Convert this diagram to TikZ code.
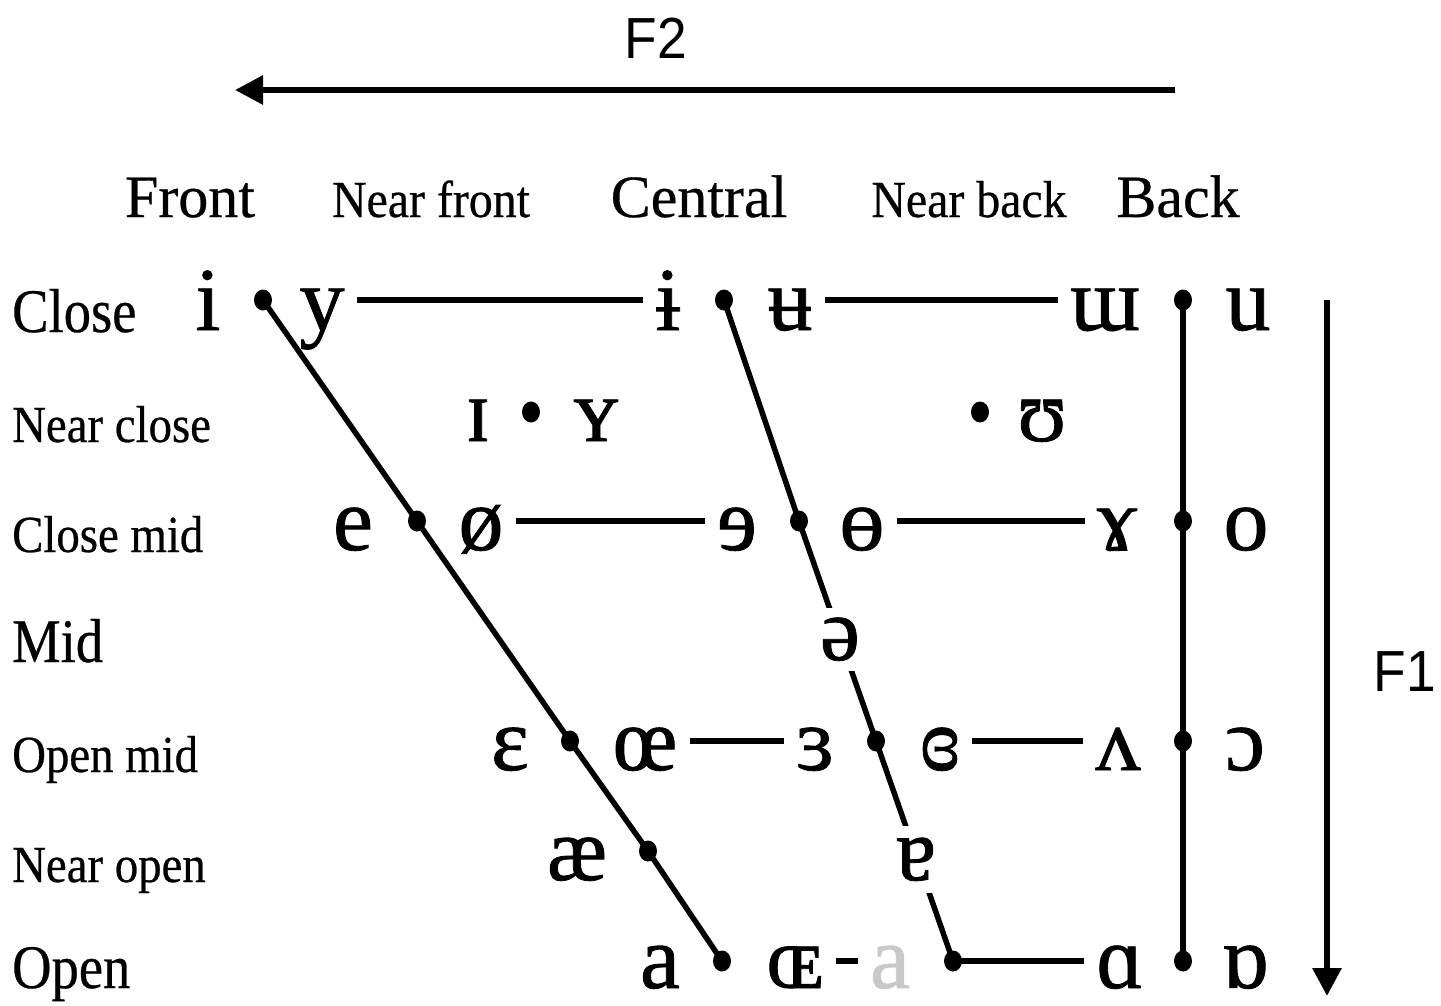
\documentclass[tikz,border=0pt]{standalone}
\usepackage{fontspec}
\setmainfont{Liberation Serif}
\newfontfamily\ipa[FakeBold=0.9]{Liberation Serif}
\newfontfamily\lbl[FakeBold=0.5]{Liberation Serif}
\newfontfamily\fsans{Liberation Sans}
\usetikzlibrary{arrows.meta,shapes.geometric}
\definecolor{lightgray}{RGB}{200,200,200}
\tikzset{
  vw/.style={font=\ipa\fontsize{90}{90}\selectfont, anchor=base, inner xsep=12pt, inner ysep=0pt},
  dotnode/.style={ellipse, fill=black, inner sep=0pt, minimum width=18pt, minimum height=21pt},
  conn/.style={line width=5.5pt},
  axis/.style={line width=6pt, -{Triangle[length=28pt,width=28pt]}},
  rowbig/.style={font=\lbl\fontsize{62}{62}\selectfont, xscale=0.88, anchor=base west, inner sep=0pt},
  rowsmall/.style={font=\lbl\fontsize{52}{52}\selectfont, xscale=0.9, anchor=base west, inner sep=0pt},
  colbig/.style={font=\lbl\fontsize{60}{60}\selectfont, anchor=base, inner sep=0pt},
  colsmall/.style={font=\lbl\fontsize{52}{52}\selectfont, xscale=0.92, anchor=base, inner sep=0pt},
  flabel/.style={font=\fsans\fontsize{58}{58}\selectfont, xscale=0.92, inner sep=0pt}
}
\begin{document}
\begin{tikzpicture}[x=1pt,y=-1pt]
\useasboundingbox (0,0) rectangle (1441,1005);
% axes
\coordinate (f2s) at (1175,90);
\coordinate (f2e) at (235,90);
\draw[axis] (f2s) -- (f2e);
\node[flabel] (F2) at (656,38) {F2};
\coordinate (f1s) at (1327,300);
\coordinate (f1e) at (1327,996);
\draw[axis] (f1s) -- (f1e);
\node[flabel] (F1) at (1405,672) {F1};
% column headers
\node[colbig] (hfront) at (190,217) {Front};
\node[colsmall] (hnf) at (431,217) {Near front};
\node[colbig] (hcen) at (699,217) {Central};
\node[colsmall] (hnb) at (969,217) {Near back};
\node[colbig] (hback) at (1178,217) {Back};
% row labels
\node[rowbig] (rclose) at (12,332) {Close};
\node[rowsmall] (rnc) at (12,442) {Near close};
\node[rowsmall] (rcm) at (12,552) {Close mid};
\node[rowbig] (rmid) at (12,662) {Mid};
\node[rowsmall] (rom) at (12,772) {Open mid};
\node[rowsmall] (rno) at (12,882) {Near open};
\node[rowbig] (ropen) at (12,988) {Open};
% dots
\node[dotnode] (fd1) at (263,300) {};
\node[dotnode] (fd3) at (417,521) {};
\node[dotnode] (fd5) at (570,741) {};
\node[dotnode] (fd6) at (648,851) {};
\node[dotnode] (fd7) at (722,961) {};
\node[dotnode] (cd1) at (724,300) {};
\node[dotnode] (cd3) at (799,521) {};
\node[dotnode] (cd5) at (876,741) {};
\node[dotnode] (cd7) at (953,961) {};
\node[dotnode] (bd1) at (1183,300) {};
\node[dotnode] (bd3) at (1183,521) {};
\node[dotnode] (bd5) at (1183,741) {};
\node[dotnode] (bd7) at (1183,961) {};
\node[dotnode] (nfd) at (531,412) {};
\node[dotnode] (nbd) at (980,412) {};
% skeleton lines
\draw[conn] (fd1.center) -- (fd3.center) -- (fd5.center) -- (fd6.center) -- (fd7.center);
\draw[conn] (cd1.center) -- (cd3.center) -- (cd5.center) -- (cd7.center);
\draw[conn] (bd1.center) -- (bd7.center);
% vowels
% close
\node[vw] (vi) at (208,330) {i};
\node[vw] (vy) at (322,330) {y};
\node[vw] (vib) at (668,330) {ɨ};
\node[vw] (vub) at (790,330) {ʉ};
\node[vw] (vuu) at (1105,330) {ɯ};
\node[vw] (vu) at (1248,330) {u};
% near close
\node[vw] (vI) at (478,441) {ɪ};
\node[vw] (vY) at (596,441) {ʏ};
\node[vw] (vU) at (1042,441) {ʊ};
% close mid
\node[vw] (ve) at (353,550) {e};
\node[vw] (vo2) at (481,550) {ø};
\node[vw] (vre) at (737,550) {ɘ};
\node[vw] (vbo) at (862,550) {ɵ};
\node[vw] (vga) at (1117,550) {ɤ};
\node[vw] (vo) at (1246,550) {o};
% mid
\node[vw, fill=white, inner ysep=10pt] (vsch) at (840,660) {ə};
% open mid
\node[vw] (veps) at (510,770) {ɛ};
\node[vw] (voe) at (645,770) {œ};
\node[vw] (vrep) at (815,770) {ɜ};
\node[vw] (vcre) at (940,770) {ɞ};
\node[vw] (vwv) at (1118,770) {ʌ};
\node[vw] (voo) at (1245,770) {ɔ};
% near open
\node[vw] (vae) at (577,880) {æ};
\node[vw, fill=white, inner ysep=12pt] (vta) at (916,880) {ɐ};
% open
\node[vw] (va) at (660,988) {a};
\node[vw] (vOE) at (795,988) {ɶ};
\node[vw, text=lightgray] (vag) at (890,988) {a};
\node[vw] (vaa) at (1120,988) {ɑ};
\node[vw] (vro) at (1245,988) {ɒ};
% horizontal connectors
\draw[conn] (vy.east |- fd1) -- (vib.west |- fd1);
\draw[conn] (vub.east |- cd1) -- (vuu.west |- cd1);
\draw[conn] (vo2.east |- fd3) -- (vre.west |- fd3);
\draw[conn] (vbo.east |- cd3) -- (vga.west |- cd3);
\draw[conn] (voe.east |- fd5) -- (vrep.west |- fd5);
\draw[conn] (vcre.east |- cd5) -- (vwv.west |- cd5);
\draw[conn] (vOE.east |- fd7) -- (vag.west |- fd7);
\draw[conn] (cd7.center) -- (vaa.west |- cd7);
\end{tikzpicture}
\end{document}
